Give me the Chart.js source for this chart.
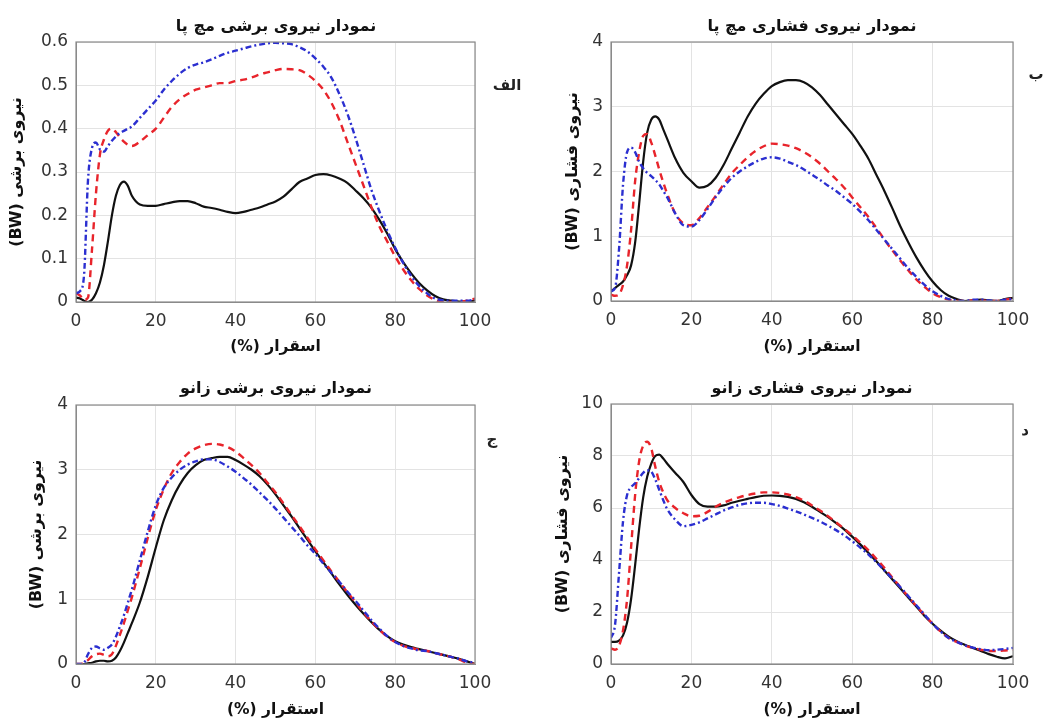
<!DOCTYPE html>
<html>
<head>
<meta charset="utf-8">
<script src="https://cdn.jsdelivr.net/npm/chart.js@4"></script>
<style>
  body { margin: 0; background: #fff; }
  #wrap { position: relative; width: 1055px; height: 722px; overflow: hidden; font-family: "DejaVu Sans", sans-serif; }
  .panel { position: absolute; }
  .ttl { position: absolute; font-weight: bold; font-size: 16px; color: #111; transform: translate(-50%, -50%); white-space: nowrap; }
  .tag { position: absolute; font-size: 15px; font-weight: bold; color: #222; transform: translate(-50%, -50%); white-space: nowrap; }
</style>
</head>
<body>
<div id="wrap">
  <canvas id="c1" class="panel" style="left:0;top:0"></canvas>
  <canvas id="c2" class="panel" style="left:530px;top:0"></canvas>
  <canvas id="c3" class="panel" style="left:0;top:360px"></canvas>
  <canvas id="c4" class="panel" style="left:530px;top:360px"></canvas>

  <div class="ttl" style="left:276px;top:25px">نمودار نیروی برشی مچ پا</div>
  <div class="ttl" style="left:812px;top:25px">نمودار نیروی فشاری مچ پا</div>
  <div class="ttl" style="left:276px;top:387px">نمودار نیروی برشی زانو</div>
  <div class="ttl" style="left:812px;top:387px">نمودار نیروی فشاری زانو</div>

  <div class="tag" style="left:507px;top:85px">الف</div>
  <div class="tag" style="left:1036px;top:74px">ب</div>
  <div class="tag" style="left:492px;top:439px">ج</div>
  <div class="tag" style="left:1025px;top:430px">د</div>
</div>

<script>
// stance phase (%)
const stance = [0,1,2,3,4,5,6,7,8,9,10,11,12,13,14,16,18,20,22,24,26,28,30,32,34,36,38,40,42,44,46,48,50,
  52,54,56,58,60,62,64,66,68,70,72,74,76,78,80,82,84,86,88,90,92,94,96,98,100];

// ankle shear force (BW)
const ankleShearBlack = [0.01,0.008,0.003,0.0,0.005,0.02,0.045,0.085,0.14,0.2,0.245,0.27,0.278,0.268,0.245,0.225,0.222,0.222,0.226,0.23,0.233,0.233,0.228,0.22,0.217,0.213,0.208,0.205,0.208,0.213,0.218,0.225,0.232,
  0.243,0.26,0.277,0.285,0.293,0.295,0.292,0.285,0.275,0.258,0.24,0.218,0.19,0.158,0.122,0.092,0.066,0.044,0.027,0.014,0.006,0.003,0.001,0.0,0.004];
const ankleShearRed = [0.02,0.015,0.005,0.01,0.12,0.25,0.34,0.375,0.395,0.4,0.392,0.38,0.37,0.363,0.36,0.37,0.385,0.4,0.425,0.45,0.468,0.48,0.49,0.495,0.5,0.505,0.505,0.51,0.513,0.518,0.525,0.53,0.535,
  0.538,0.537,0.535,0.525,0.51,0.49,0.46,0.42,0.37,0.32,0.27,0.22,0.175,0.14,0.105,0.075,0.05,0.03,0.015,0.005,0.0,0.0,0.001,0.003,0.008];
const ankleShearBlue = [0.02,0.025,0.06,0.28,0.355,0.368,0.352,0.347,0.36,0.372,0.382,0.39,0.395,0.4,0.405,0.425,0.445,0.465,0.49,0.51,0.527,0.54,0.548,0.553,0.56,0.568,0.575,0.58,0.585,0.59,0.594,0.597,0.598,
  0.597,0.595,0.588,0.578,0.562,0.543,0.518,0.48,0.435,0.38,0.32,0.26,0.21,0.165,0.125,0.09,0.06,0.037,0.02,0.008,0.004,0.003,0.003,0.003,0.006];

// ankle compressive force (BW)
const ankleCompBlack = [0.15,0.2,0.25,0.3,0.4,0.55,0.9,1.5,2.15,2.6,2.8,2.85,2.8,2.65,2.5,2.2,1.98,1.85,1.75,1.78,1.9,2.1,2.35,2.6,2.85,3.05,3.2,3.32,3.38,3.41,3.41,3.38,3.3,
  3.18,3.03,2.88,2.73,2.58,2.4,2.2,1.95,1.7,1.43,1.15,0.9,0.67,0.47,0.3,0.17,0.08,0.03,0.0,0.01,0.02,0.01,0.0,0.03,0.05];
const ankleCompRed = [0.1,0.08,0.1,0.25,0.55,1.1,1.85,2.3,2.55,2.58,2.45,2.25,2.03,1.83,1.65,1.35,1.2,1.17,1.28,1.45,1.62,1.8,1.97,2.1,2.22,2.32,2.39,2.43,2.42,2.4,2.36,2.3,2.22,
  2.12,2.0,1.88,1.75,1.6,1.45,1.3,1.13,0.95,0.78,0.62,0.47,0.33,0.22,0.12,0.06,0.02,0.0,0.0,0.01,0.01,0.0,0.0,0.02,0.04];
const ankleCompBlue = [0.15,0.2,0.8,1.8,2.3,2.37,2.3,2.15,2.05,1.98,1.93,1.87,1.8,1.7,1.6,1.35,1.17,1.15,1.25,1.42,1.6,1.76,1.9,2.0,2.08,2.15,2.2,2.22,2.2,2.15,2.1,2.03,1.95,
  1.87,1.78,1.7,1.6,1.5,1.38,1.25,1.1,0.95,0.8,0.65,0.5,0.37,0.25,0.15,0.08,0.03,0.01,0.0,0.02,0.02,0.01,0.0,0.02,0.03];

// knee shear force (BW)
const kneeShearBlack = [0.0,0.0,0.0,0.01,0.02,0.04,0.05,0.05,0.04,0.05,0.1,0.2,0.33,0.48,0.63,0.95,1.35,1.8,2.22,2.53,2.77,2.95,3.07,3.15,3.18,3.2,3.2,3.15,3.08,3.0,2.9,2.77,2.62,
  2.45,2.28,2.1,1.92,1.74,1.57,1.4,1.23,1.07,0.92,0.78,0.65,0.53,0.43,0.35,0.3,0.26,0.23,0.2,0.17,0.14,0.11,0.08,0.04,0.0];
const kneeShearRed = [0.0,0.0,0.02,0.06,0.12,0.15,0.16,0.14,0.12,0.15,0.28,0.45,0.63,0.83,1.03,1.48,1.95,2.38,2.7,2.95,3.12,3.25,3.33,3.38,3.4,3.39,3.35,3.28,3.18,3.07,2.95,2.8,2.65,
  2.48,2.3,2.13,1.95,1.77,1.6,1.43,1.27,1.11,0.96,0.8,0.66,0.53,0.42,0.34,0.28,0.25,0.22,0.2,0.17,0.14,0.11,0.07,0.02,0.0];
const kneeShearBlue = [0.0,0.0,0.02,0.15,0.25,0.27,0.24,0.22,0.25,0.3,0.42,0.58,0.75,0.95,1.15,1.6,2.05,2.45,2.72,2.88,3.0,3.08,3.13,3.16,3.16,3.12,3.05,2.97,2.87,2.77,2.65,2.53,2.4,
  2.26,2.12,1.98,1.83,1.7,1.55,1.41,1.27,1.12,0.98,0.83,0.68,0.55,0.43,0.34,0.28,0.24,0.21,0.2,0.17,0.14,0.11,0.08,0.04,0.02];

// knee compressive force (BW)
const kneeCompBlack = [0.85,0.85,0.9,1.1,1.6,2.5,3.8,5.2,6.4,7.2,7.7,8.0,8.05,7.9,7.7,7.35,7.0,6.5,6.15,6.05,6.05,6.1,6.2,6.28,6.35,6.42,6.47,6.48,6.47,6.43,6.35,6.22,6.05,
  5.85,5.65,5.42,5.18,4.9,4.6,4.28,3.95,3.6,3.25,2.9,2.55,2.2,1.85,1.55,1.28,1.05,0.88,0.74,0.62,0.5,0.38,0.28,0.22,0.3];
const kneeCompRed = [0.6,0.55,0.7,1.3,2.5,4.5,6.5,7.8,8.4,8.55,8.3,7.6,7.0,6.6,6.3,6.0,5.8,5.68,5.7,5.85,6.05,6.2,6.32,6.42,6.5,6.56,6.6,6.6,6.58,6.52,6.42,6.28,6.1,
  5.9,5.68,5.45,5.2,4.95,4.67,4.38,4.05,3.7,3.32,2.95,2.58,2.22,1.88,1.55,1.25,1.0,0.85,0.72,0.62,0.55,0.5,0.5,0.52,0.55];
const kneeCompBlue = [1.0,1.5,3.5,5.5,6.5,6.8,6.95,7.15,7.35,7.45,7.4,7.1,6.7,6.3,5.95,5.55,5.3,5.35,5.45,5.6,5.75,5.9,6.02,6.12,6.18,6.2,6.2,6.15,6.08,5.98,5.87,5.75,5.62,
  5.48,5.32,5.15,4.95,4.72,4.48,4.22,3.92,3.6,3.28,2.95,2.6,2.25,1.9,1.55,1.25,1.0,0.85,0.72,0.63,0.57,0.53,0.55,0.58,0.62];

const xLabelShort = '(%) اسقرار';
const xLabel = '(%) استقرار';
const yLabelShear = '(BW) نیروی برشی';
const yLabelComp = '(BW) نیروی فشاری';

// full box round the plot area, like matlab "box on"
const boxPlugin = {
  id: 'box',
  afterDatasetsDraw(chart) {
    const a = chart.chartArea;
    const ctx = chart.ctx;
    ctx.save();
    ctx.strokeStyle = '#8a8a8a';
    ctx.lineWidth = 1.2;
    ctx.strokeRect(a.left, a.top, a.right - a.left, a.bottom - a.top);
    ctx.restore();
  }
};

function pts(ys) {
  return stance.map((x, i) => ({ x: x, y: ys[i] }));
}

function makePanel(id, w, h, cfg) {
  const canvas = document.getElementById(id);
  canvas.width = w;
  canvas.height = h;
  return new Chart(canvas, {
    type: 'line',
    data: {
      datasets: [
        { data: pts(cfg.blue), borderColor: '#2b2fd0', borderWidth: 2.4, borderDash: [6, 3, 2, 3] },
        { data: pts(cfg.red), borderColor: '#e8242b', borderWidth: 2.4, borderDash: [7, 5] },
        { data: pts(cfg.black), borderColor: '#111111', borderWidth: 2.2 }
      ]
    },
    options: {
      responsive: false,
      animation: false,
      events: [],
      elements: { point: { radius: 0 }, line: { cubicInterpolationMode: 'monotone' } },
      layout: { padding: { top: cfg.top, right: cfg.right, left: 0, bottom: 0 } },
      plugins: { legend: { display: false }, tooltip: { enabled: false } },
      scales: {
        x: {
          type: 'linear', min: 0, max: 100,
          ticks: { stepSize: 20, color: '#333', padding: 9, font: { family: 'DejaVu Sans', size: 17 } },
          grid: { color: '#e3e3e3', drawTicks: false },
          border: { color: '#8a8a8a' },
          title: { display: true, text: cfg.xTitle, color: '#111', padding: { top: 0, bottom: cfg.xPad },
                   font: { family: 'DejaVu Sans', size: 15.5, weight: 'bold' } },
          afterFit: s => { s.height = cfg.xH; }
        },
        y: {
          min: 0, max: cfg.yMax,
          ticks: { stepSize: cfg.yStep, color: '#333', padding: 8, font: { family: 'DejaVu Sans', size: 17 } },
          grid: { color: '#e3e3e3', drawTicks: false },
          border: { color: '#8a8a8a' },
          title: { display: true, text: cfg.yTitle, color: '#111', padding: { top: cfg.yPad, bottom: 0 },
                   font: { family: 'DejaVu Sans', size: 16, weight: 'bold' } },
          afterFit: s => { s.width = cfg.yW; }
        }
      }
    },
    plugins: [boxPlugin]
  });
}

makePanel('c1', 530, 360, { black: ankleShearBlack, red: ankleShearRed, blue: ankleShearBlue,
  yMax: 0.6, yStep: 0.1, top: 42, right: 55, yW: 76, xH: 58, yPad: 7.4, xPad: 3.7,
  xTitle: xLabelShort, yTitle: yLabelShear });
makePanel('c2', 525, 360, { black: ankleCompBlack, red: ankleCompRed, blue: ankleCompBlue,
  yMax: 4, yStep: 1, top: 42, right: 42, yW: 81, xH: 59, yPad: 33.4, xPad: 3.7,
  xTitle: xLabel, yTitle: yLabelComp });
makePanel('c3', 530, 362, { black: kneeShearBlack, red: kneeShearRed, blue: kneeShearBlue,
  yMax: 4, yStep: 1, top: 45, right: 55, yW: 76, xH: 58, yPad: 27.4, xPad: 2.7,
  xTitle: xLabel, yTitle: yLabelShear });
makePanel('c4', 525, 362, { black: kneeCompBlack, red: kneeCompRed, blue: kneeCompBlue,
  yMax: 10, yStep: 2, top: 44, right: 42, yW: 81, xH: 58, yPad: 23.4, xPad: 2.7,
  xTitle: xLabel, yTitle: yLabelComp });
</script>
</body>
</html>
